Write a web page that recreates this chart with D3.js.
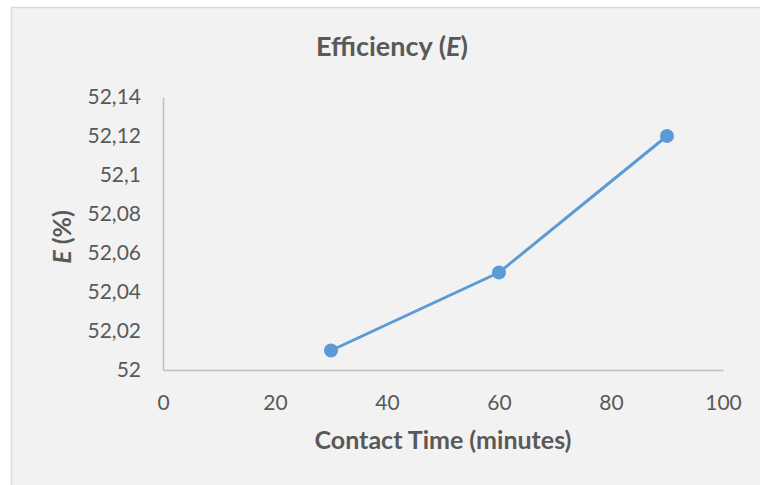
<!DOCTYPE html>
<html>
<head>
<meta charset="utf-8">
<script src="https://cdn.jsdelivr.net/npm/d3@7"></script>
<style>
  html, body { margin: 0; padding: 0; background: #ffffff; }
  svg { display: block; }
  text { font-family: Lato, "Open Sans", sans-serif; fill: #595959; }
</style>
</head>
<body>
<svg id="chart" width="760" height="485"></svg>
<script>
// Contact time (minutes) and removal efficiency E (%)
const contactTime = [30, 60, 90];
const efficiency = [52.01, 52.05, 52.12];

// Axis ticks
const xTicks = [0, 20, 40, 60, 80, 100];
const yTicks = [52, 52.02, 52.04, 52.06, 52.08, 52.1, 52.12, 52.14];

const svg = d3.select("#chart");
const W = 760, H = 485;

// chart frame
svg.append("rect")
  .attr("x", 11.5).attr("y", 7.5)
  .attr("width", W + 10).attr("height", H + 10)
  .attr("fill", "#f2f2f2")
  .attr("stroke", "#d9d9d9")
  .attr("stroke-width", 1.5);

const plot = { left: 163, right: 723, top: 97, bottom: 370 };

const x = d3.scaleLinear().domain([0, 100]).range([plot.left, plot.right]);
const y = d3.scaleLinear().domain([52, 52.14]).range([plot.bottom, plot.top]);

const locale = d3.formatLocale({ decimal: ",", thousands: ".", grouping: [3], currency: ["", ""] });
const fmt = locale.format(".2~f");

// y axis
const yAxis = svg.append("g")
  .attr("transform", `translate(${plot.left},0)`)
  .call(d3.axisLeft(y).tickValues(yTicks).tickFormat(fmt).tickSize(0).tickPadding(22));
yAxis.select(".domain").attr("stroke", "#bfbfbf").attr("stroke-width", 1.5);
yAxis.selectAll("text")
  .attr("fill", "#595959")
  .style("font-size", "21px")
  .style("font-family", "Lato, sans-serif");

// x axis
const xAxis = svg.append("g")
  .attr("transform", `translate(0,${plot.bottom})`)
  .call(d3.axisBottom(x).tickValues(xTicks).tickFormat(d => d).tickSize(0).tickPadding(25));
xAxis.select(".domain").attr("stroke", "#bfbfbf").attr("stroke-width", 1.5);
xAxis.selectAll("text")
  .attr("fill", "#595959")
  .style("font-size", "21px")
  .style("font-family", "Lato, sans-serif");

// series line and markers
const pts = contactTime.map((t, i) => [t, efficiency[i]]);
svg.append("path")
  .datum(pts)
  .attr("fill", "none")
  .attr("stroke", "#5b9bd5")
  .attr("stroke-width", 3)
  .attr("stroke-linejoin", "round")
  .attr("d", d3.line().x(d => x(d[0])).y(d => y(d[1])));

svg.selectAll("circle.pt")
  .data(pts)
  .enter().append("circle")
  .attr("class", "pt")
  .attr("cx", d => x(d[0]))
  .attr("cy", d => y(d[1]))
  .attr("r", 7)
  .attr("fill", "#5b9bd5");

// chart title
const title = svg.append("text")
  .attr("x", 392).attr("y", 56)
  .attr("text-anchor", "middle")
  .style("font-size", "27px")
  .style("font-weight", "bold");
title.append("tspan").text("Efficiency (");
title.append("tspan").style("font-style", "italic").text("E");
title.append("tspan").text(")");

// x axis title
svg.append("text")
  .attr("x", 443).attr("y", 449)
  .attr("text-anchor", "middle")
  .style("font-size", "25px")
  .style("font-weight", "bold")
  .text("Contact Time (minutes)");

// y axis title
const yTitle = svg.append("text")
  .attr("transform", "translate(71,237) rotate(-90)")
  .attr("text-anchor", "middle")
  .style("font-size", "25px")
  .style("font-weight", "bold");
yTitle.append("tspan").style("font-style", "italic").text("E");
yTitle.append("tspan").text(" (%)");
</script>
</body>
</html>
